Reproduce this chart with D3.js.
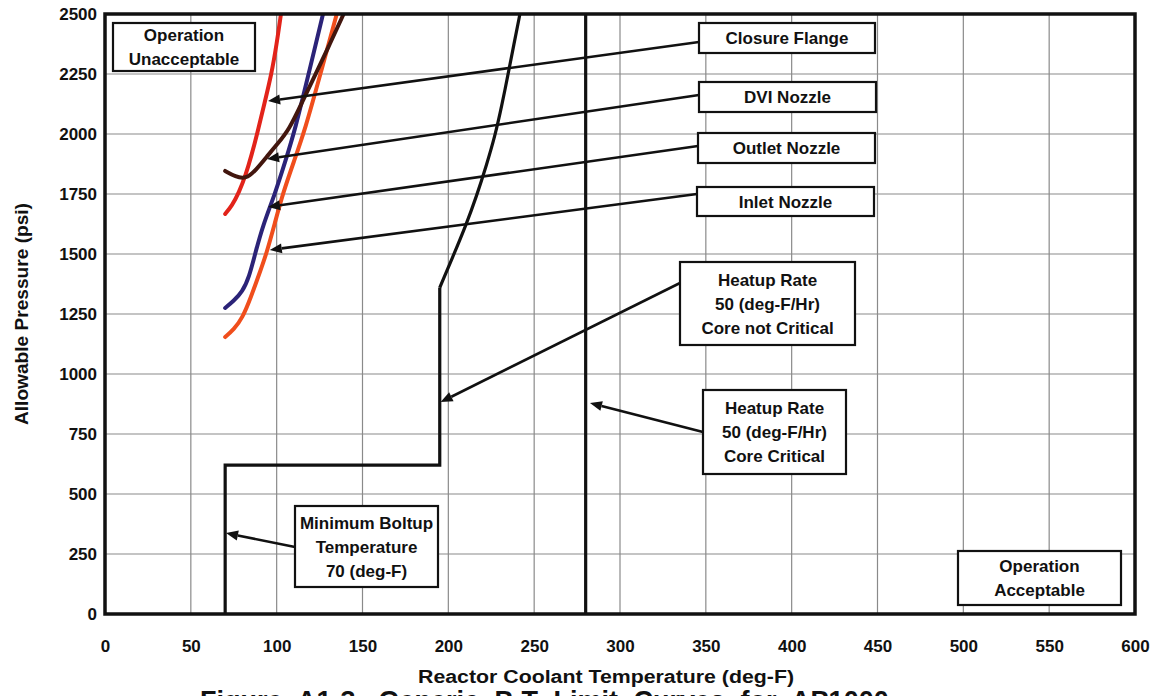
<!DOCTYPE html>
<html><head><meta charset="utf-8">
<script src="https://cdn.jsdelivr.net/npm/d3@7"></script>
<style>body{margin:0;background:#fff}svg{display:block}text{font-family:Arial,"Liberation Sans",sans-serif;font-weight:bold}</style>
</head><body><svg id="c" width="1159" height="696"></svg>
<script>
const xTicks=[0,50,100,150,200,250,300,350,400,450,500,550,600];
const yTicks=[0,250,500,750,1000,1250,1500,1750,2000,2250,2500];
const closureFlange=[[70,1667],[74,1702],[78,1755],[82,1830],[85.5,1915],[88.6,2000],[92.8,2125],[97,2250],[100,2375],[102.5,2500]];
const dviNozzle=[[70,1846],[76,1822],[82,1812],[88,1850],[95,1912],[100,1955],[107.2,2017],[115,2135],[122.7,2250],[131,2375],[139,2500]];
const outletNozzle=[[70,1275],[75,1305],[80,1342],[84,1405],[87.4,1500],[92,1620],[99,1750],[105,1885],[110.7,2017],[118.6,2250],[127,2500]];
const inletNozzle=[[70,1154],[75,1185],[80,1232],[85,1320],[90,1420],[94,1500],[99,1630],[103.5,1750],[110,1885],[116.5,2017],[125.5,2250],[135,2500]];
const boltupStep=[[70,0],[70,620],[195,620],[195,1360]];
const heatupCurve=[[195,1360],[202.7,1490],[210,1615],[216.5,1742],[222.2,1870],[227.2,1992],[231.2,2120],[234.6,2242],[238.1,2370],[241.7,2500]];
const coreCritical=[[280,0],[280,2500]];

const svg=d3.select("#c");
const L=105,R=1135,T=14,B=614;
const x=d3.scaleLinear().domain([0,600]).range([L,R]);
const y=d3.scaleLinear().domain([0,2500]).range([B,T]);

svg.append("g").selectAll("line").data(xTicks.slice(1,-1)).join("line")
 .attr("x1",d=>x(d)).attr("x2",d=>x(d)).attr("y1",T).attr("y2",B).attr("stroke","#8a8a8a").attr("stroke-width",1.2);
svg.append("g").selectAll("line").data(yTicks.slice(1,-1)).join("line")
 .attr("y1",d=>y(d)).attr("y2",d=>y(d)).attr("x1",L).attr("x2",R).attr("stroke","#8a8a8a").attr("stroke-width",1.2);

const xa=svg.append("g").attr("transform",`translate(0,${B})`).call(d3.axisBottom(x).tickValues(xTicks).tickFormat(d3.format("d")).tickSize(0).tickPadding(26));
xa.select(".domain").remove();
xa.selectAll("text").attr("font-size",17).attr("font-family","Arial").attr("font-weight","bold").attr("fill","#111");
const ya=svg.append("g").attr("transform",`translate(${L},0)`).call(d3.axisLeft(y).tickValues(yTicks).tickFormat(d3.format("d")).tickSize(0).tickPadding(8));
ya.select(".domain").remove();
ya.selectAll("text").attr("font-size",17).attr("font-family","Arial").attr("font-weight","bold").attr("fill","#111");

svg.append("text").attr("x",606).attr("y",683).attr("text-anchor","middle").attr("font-size",18).attr("fill","#111")
 .attr("textLength",376).attr("lengthAdjust","spacingAndGlyphs").text("Reactor Coolant Temperature (deg-F)");
svg.append("text").attr("transform","translate(28,314) rotate(-90)").attr("text-anchor","middle").attr("font-size",18).attr("fill","#111")
 .attr("textLength",222).attr("lengthAdjust","spacingAndGlyphs").text("Allowable Pressure (psi)");
svg.append("text").attr("x",200).attr("y",710).attr("font-size",27).attr("fill","#111").attr("word-spacing",8).text("Figure A1-3.  Generic P-T Limit Curves for AP1000");

const lineC=d3.line().x(d=>x(d[0])).y(d=>y(d[1])).curve(d3.curveBasis);
const lineL=d3.line().x(d=>x(d[0])).y(d=>y(d[1]));
svg.append("clipPath").attr("id","pc").append("rect").attr("x",L).attr("y",T).attr("width",R-L).attr("height",B-T);
const g=svg.append("g").attr("clip-path","url(#pc)");
[[closureFlange,"#e2231a"],[outletNozzle,"#2b2378"],[inletNozzle,"#f04e1c"],[dviNozzle,"#42160e"]].forEach(([d,c])=>{
 g.append("path").attr("d",lineC(d)).attr("fill","none").attr("stroke",c).attr("stroke-width",4).attr("stroke-linecap","round");
});
svg.append("path").attr("d",lineL(boltupStep)).attr("fill","none").attr("stroke","#111").attr("stroke-width",3.2);
svg.append("path").attr("d",lineC(heatupCurve)).attr("fill","none").attr("stroke","#111").attr("stroke-width",3.2);
svg.append("path").attr("d",lineL(coreCritical)).attr("fill","none").attr("stroke","#111").attr("stroke-width",3.2);

svg.append("rect").attr("x",L).attr("y",T).attr("width",R-L).attr("height",B-T).attr("fill","none").attr("stroke","#111").attr("stroke-width",3.5);

const ann=[
 {lines:["Operation","Unacceptable"],box:[113,23,142,48]},
 {lines:["Closure Flange"],box:[699,23,176,30],from:[699,42],to:[95,2137]},
 {lines:["DVI Nozzle"],box:[699,82,177,30],from:[699,95],to:[94.4,1896]},
 {lines:["Outlet Nozzle"],box:[698,133,177,30],from:[698,146],to:[95,1696]},
 {lines:["Inlet Nozzle"],box:[697,187,177,29],from:[697,194],to:[96,1517]},
 {lines:["Heatup Rate","50 (deg-F/Hr)","Core not Critical"],box:[680,262,175,83],from:[680,283],to:[195.5,883]},
 {lines:["Heatup Rate","50 (deg-F/Hr)","Core Critical"],box:[703,390,143,84],from:[703,432],to:[282.5,879]},
 {lines:["Minimum Boltup","Temperature","70 (deg-F)"],box:[295,506,143,81],from:[295,547],to:[70.5,337]},
 {lines:["Operation","Acceptable"],box:[958,551,163,54]}
];
ann.forEach(a=>{
 if(a.from){
  const tx=x(a.to[0]),ty=y(a.to[1]),fx=a.from[0],fy=a.from[1];
  const ang=Math.atan2(fy-ty,fx-tx),hl=12,hw=5;
  const bx=tx+hl*Math.cos(ang),by=ty+hl*Math.sin(ang);
  svg.append("line").attr("x1",fx).attr("y1",fy).attr("x2",bx).attr("y2",by).attr("stroke","#111").attr("stroke-width",2.6);
  const px=-Math.sin(ang),py=Math.cos(ang);
  svg.append("path").attr("d",`M${tx},${ty}L${bx+px*hw},${by+py*hw}L${bx-px*hw},${by-py*hw}Z`).attr("fill","#111");
 }
 const [bx,by,bw,bh]=a.box;
 svg.append("rect").attr("x",bx).attr("y",by).attr("width",bw).attr("height",bh).attr("fill","#fff").attr("stroke","#111").attr("stroke-width",2.2);
 const n=a.lines.length, lh=24, cy=by+bh/2;
 a.lines.forEach((t,i)=>{
  svg.append("text").attr("x",bx+bw/2).attr("y",cy+(i-(n-1)/2)*lh+6).attr("text-anchor","middle").attr("font-size",17).attr("fill","#111").text(t);
 });
});
</script></body></html>
